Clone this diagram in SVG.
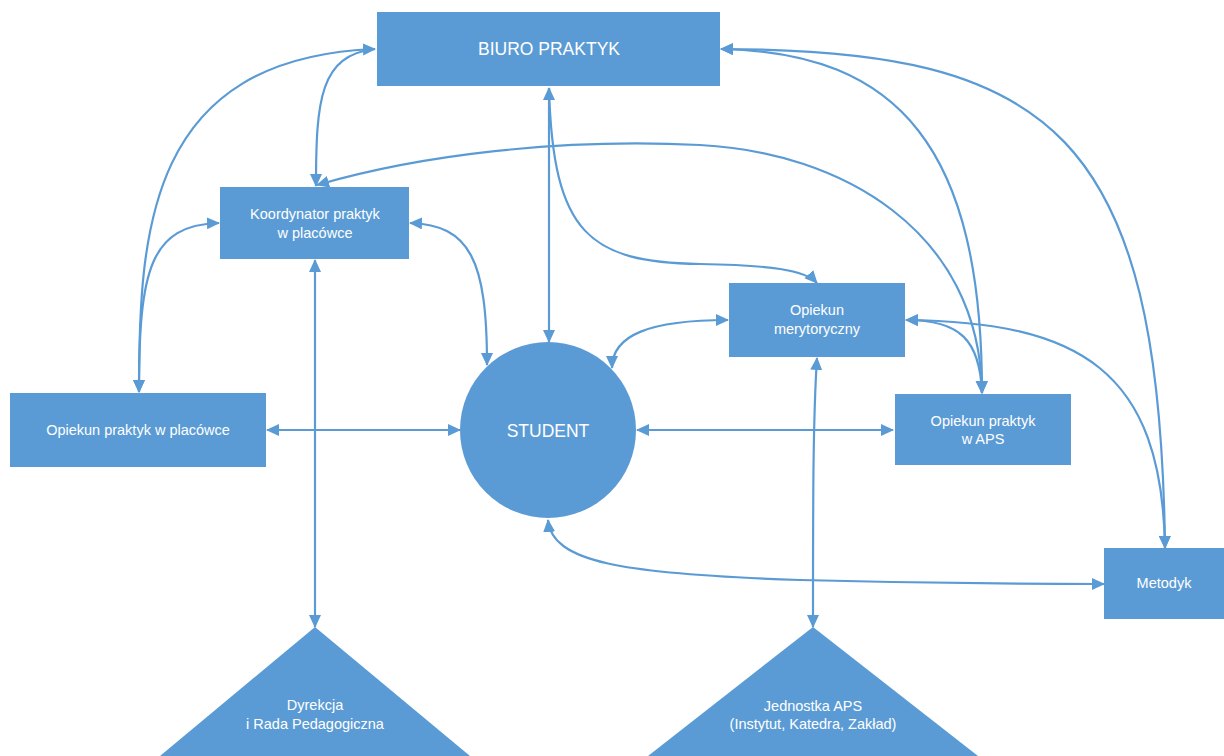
<svg xmlns="http://www.w3.org/2000/svg" width="1224" height="756" viewBox="0 0 1224 756">
<style>
.n{fill:#5B9BD5}
.t{fill:#ffffff;font-family:"Liberation Sans",Arial,sans-serif;font-size:14.5px;text-anchor:middle}
.tb{font-size:17.5px}
.c{fill:none;stroke:#5B9BD5;stroke-width:2.2}
</style>
<defs>
<marker id="a" markerUnits="userSpaceOnUse" markerWidth="14" markerHeight="13" refX="12" refY="6" orient="auto-start-reverse"><path d="M0,0 L13,6 L0,12 z" fill="#5B9BD5"/></marker>
</defs>
<rect width="1224" height="756" fill="#ffffff"/>
<g id="connectors">
<path class="c" d="M549,88 L549,342" marker-start="url(#a)" marker-end="url(#a)"/>
<path class="c" d="M549,88 C553,235 590,262 700,264 C770,265 805,270 817,283" marker-end="url(#a)"/>
<path class="c" d="M139,392 C139,230 148,58 375,49" marker-start="url(#a)" marker-end="url(#a)"/>
<path class="c" d="M316,186 C316,100 320,55 375,49" marker-start="url(#a)"/>
<path class="c" d="M219,223 C150,225 139,270 139,392" marker-start="url(#a)" marker-end="url(#a)"/>
<path class="c" d="M410,223 C470,225 487,260 487,365" marker-start="url(#a)" marker-end="url(#a)"/>
<path class="c" d="M315,260 L315,627" marker-start="url(#a)" marker-end="url(#a)"/>
<path class="c" d="M267,430 L460,430" marker-start="url(#a)" marker-end="url(#a)"/>
<path class="c" d="M637,430 L893,430" marker-start="url(#a)" marker-end="url(#a)"/>
<path class="c" d="M728,320 C650,320 612,335 612,368" marker-start="url(#a)" marker-end="url(#a)"/>
<path class="c" d="M817,358 C813,420 813,500 813,627" marker-start="url(#a)" marker-end="url(#a)"/>
<path class="c" d="M548,520 C552,562 620,574 800,580 C950,584 1050,584 1104,584" marker-start="url(#a)" marker-end="url(#a)"/>
<path class="c" d="M721,49 C900,52 982,150 982,393" marker-start="url(#a)" marker-end="url(#a)"/>
<path class="c" d="M721,49 C1050,50 1160,130 1165,548" marker-start="url(#a)" marker-end="url(#a)"/>
<path class="c" d="M317,185 C420,155 560,138 700,145 C840,152 980,230 982,393" marker-start="url(#a)" marker-end="url(#a)"/>
<path class="c" d="M906,320 C960,320 980,340 982,393" marker-start="url(#a)" marker-end="url(#a)"/>
<path class="c" d="M906,320 C1080,322 1162,370 1165,548" marker-start="url(#a)" marker-end="url(#a)"/>
</g>
<g id="biuro">
<rect class="n" x="377" y="12" width="343" height="74"/>
<text class="t tb" x="549" y="55">BIURO PRAKTYK</text>
</g>
<g id="koordynator">
<rect class="n" x="220" y="187" width="189" height="72"/>
<text class="t" x="315" y="219">Koordynator praktyk</text>
<text class="t" x="315" y="238">w placówce</text>
</g>
<g id="opiekun-merytoryczny">
<rect class="n" x="729" y="283" width="176" height="74"/>
<text class="t" x="817" y="315">Opiekun</text>
<text class="t" x="817" y="334">merytoryczny</text>
</g>
<g id="opiekun-placowka">
<rect class="n" x="10" y="393" width="256" height="74"/>
<text class="t" x="138" y="435">Opiekun praktyk w placówce</text>
</g>
<g id="student">
<circle class="n" cx="548" cy="430" r="88"/>
<text class="t tb" x="548" y="437">STUDENT</text>
</g>
<g id="opiekun-aps">
<rect class="n" x="895" y="394" width="176" height="71"/>
<text class="t" x="983" y="426">Opiekun praktyk</text>
<text class="t" x="983" y="444">w APS</text>
</g>
<g id="metodyk">
<rect class="n" x="1104" y="548" width="120" height="71"/>
<text class="t" x="1164" y="588">Metodyk</text>
</g>
<g id="dyrekcja">
<polygon class="n" points="315,627 160,756 470,756"/>
<text class="t" x="315" y="710">Dyrekcja</text>
<text class="t" x="315" y="729">i Rada Pedagogiczna</text>
</g>
<g id="jednostka">
<polygon class="n" points="813,627 648,756 978,756"/>
<text class="t" x="813" y="711">Jednostka APS</text>
<text class="t" x="813" y="729">(Instytut, Katedra, Zakład)</text>
</g>
</svg>
